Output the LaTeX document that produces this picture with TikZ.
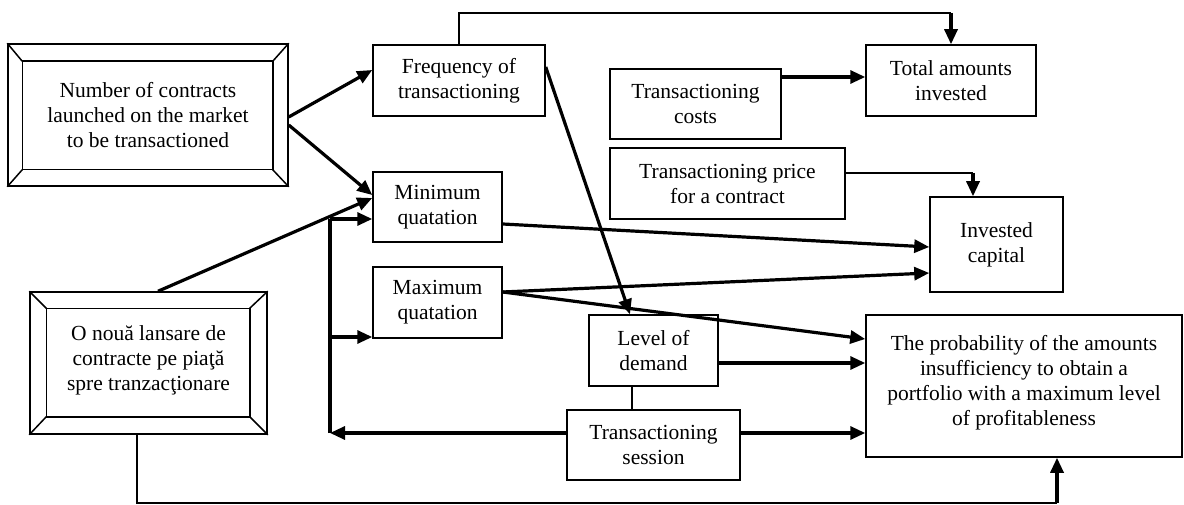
\documentclass[tikz,border=0pt]{standalone}
\usepackage{fontspec}
\setmainfont{Liberation Serif}
\usetikzlibrary{arrows.meta,calc}
\begin{document}
\begin{tikzpicture}[x=1pt,y=-1pt,
  box/.style={draw, line width=1.5pt, inner sep=0pt, align=center, font=\fontsize{21.5}{25}\selectfont},
  thk/.style={line width=3.2pt},
  thn/.style={line width=1.5pt},
  arr/.style={-{Triangle[length=15pt,width=13pt]}}]
\useasboundingbox (0,0) rectangle (1184,505);

% nodes
\node[box, minimum width=280pt, minimum height=142pt] (b1) at (148,115) {Number of contracts\\launched on the market\\to be transactioned};
\node[box, minimum width=237pt, minimum height=142pt] (b2) at (148.5,363) {O nouă lansare de\\contracte pe piaţă\\spre tranzacţionare\\[-15pt]};
\node[box, minimum width=172pt, minimum height=71pt] (freq) at (459,80.5) {Frequency of\\transactioning};
\node[box, minimum width=129pt, minimum height=70pt] (minq) at (437.5,207) {Minimum\\quatation};
\node[box, minimum width=129pt, minimum height=71pt] (maxq) at (437.5,302.5) {Maximum\\quatation};
\node[box, minimum width=129pt, minimum height=71pt] (lev) at (653.5,350.5) {Level of\\demand};
\node[box, minimum width=173pt, minimum height=70pt] (sess) at (653.5,445) {Transactioning\\session};
\node[box, minimum width=171pt, minimum height=70pt] (costs) at (695.5,104) {Transactioning\\costs};
\node[box, minimum width=170pt, minimum height=71pt] (total) at (951,80.5) {Total amounts\\invested};
\node[box, minimum width=235pt, minimum height=71pt] (price) at (727.5,183.5) {Transactioning price\\for a contract};
\node[box, minimum width=133pt, minimum height=95pt] (inv) at (996.5,244.5) {Invested\\capital};
\node[box, minimum width=316pt, minimum height=142pt] (prob) at (1024,386) {The probability of the amounts\\insufficiency to obtain a\\portfolio with a maximum level\\of profitableness\\[-13pt]};

% bevels
\draw[thn] ($(b1.north west)+(15,18)$) rectangle ($(b1.south east)+(-16,-17)$);
\draw[thn] (b1.north west) -- +(15,18) (b1.north east) -- +(-16,18)
           (b1.south west) -- +(15,-17) (b1.south east) -- +(-16,-17);
\draw[thn] ($(b2.north west)+(17,17)$) rectangle ($(b2.south east)+(-18,-18)$);
\draw[thn] (b2.north west) -- +(17,17) (b2.north east) -- +(-18,17)
           (b2.south west) -- +(17,-18) (b2.south east) -- +(-18,-18);

% connectors
\draw[thk,arr] (b1.east |- 0,117) -- (freq.west |- 0,70);
\draw[thk,arr] (b1.east |- 0,125) -- (minq.west |- 0,195);
\draw[thk,arr] (b2.north -| 158,0) -- (minq.west |- 0,198);

\coordinate (vt) at (330,219);
\coordinate (vb) at (330,433);
\draw[thk,arr] (sess.west |- vb) -- (vb);
\draw[thk] (vb) -- (vt);
\draw[thk,arr] (vt) -- (minq.west |- vt);
\draw[thk,arr] (vt |- 0,337) -- (maxq.west |- 0,337);

\coordinate (tc) at (951,13);
\draw[thn] (freq.north) |- (tc);
\draw[thk,arr] (tc) -- (total.north);
\draw[thk,arr] (costs.east |- 0,77) -- (total.west |- 0,77);
\coordinate (pc) at (973,173);
\draw[thn] (price.east |- pc) -- (pc);
\draw[thk,arr] (pc) -- (inv.north -| pc);

\draw[thk,arr] (freq.east |- 0,67) -- (lev.north -| 630,0);
\draw[thk,arr] (minq.east |- 0,224) -- (inv.west |- 0,247);
\draw[thk,arr] (maxq.east |- 0,292) -- (inv.west |- 0,273);
\draw[thk,arr] (maxq.east |- 0,292) -- (prob.west |- 0,339);
\draw[thk,arr] (lev.east |- 0,363) -- (prob.west |- 0,363);
\draw[thk,arr] (sess.east |- 0,433) -- (prob.west |- 0,433);
\draw[thn] (lev.south -| 632,0) -- (sess.north -| 632,0);

\coordinate (bc) at (1057,503);
\draw[thn] (b2.south -| 137,0) |- (bc);
\draw[thk,arr] (bc) -- (prob.south -| bc);
\end{tikzpicture}
\end{document}
